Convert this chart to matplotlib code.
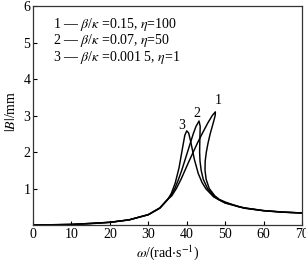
import matplotlib
matplotlib.use("Agg")
import matplotlib.pyplot as plt

# -------------------------
#  DATA
# -------------------------
# curve 1: beta/kappa = 0.15, eta = 100
omega1 = [0, 10, 20, 25, 30, 33, 35, 36.1, 37.3, 38.5, 39.55, 40.6, 41.7, 42.8,
          44.0, 44.75, 45.5, 46.65, 47.45,
          47.4, 46.9, 46.5, 46.1, 45.55, 45.1, 44.8, 44.75, 45.05, 45.85,
          47.3, 48.5, 50, 53.5, 55, 60, 65, 70]
B1 = [0, 0.015, 0.074, 0.142, 0.286, 0.47, 0.70, 0.8, 1.0, 1.25, 1.5, 1.75, 2.0, 2.25,
      2.5, 2.65, 2.8, 3.0, 3.1,
      3.0, 2.8, 2.65, 2.5, 2.25, 2.0, 1.75, 1.5, 1.25, 1.0,
      0.8, 0.7, 0.63, 0.5, 0.47, 0.395, 0.355, 0.33]

# curve 2: beta/kappa = 0.07, eta = 50
omega2 = [0, 10, 20, 25, 30, 33, 35, 35.9, 36.9, 37.85, 38.7, 39.45, 40.2, 41.1,
          41.7, 42.4, 43.2,
          43.5, 43.45, 43.4, 43.35, 43.45, 43.75, 44.3, 45.4, 47.0, 48.2,
          50, 55, 60, 65, 70]
B2 = [0, 0.015, 0.074, 0.141, 0.283, 0.465, 0.70, 0.8, 1.0, 1.25, 1.5, 1.75, 2.0, 2.3,
      2.5, 2.7, 2.85,
      2.7, 2.5, 2.3, 2.0, 1.75, 1.5, 1.25, 1.0, 0.8, 0.7,
      0.61, 0.465, 0.393, 0.353, 0.328]

# curve 3: beta/kappa = 0.0015, eta = 1
omega3 = [0, 5, 10, 15, 20, 25, 30, 33, 35, 36, 37, 38, 39, 39.5, 40, 40.5, 41,
          42, 43, 44, 45, 47, 50, 55, 60, 65, 70]
B3 = [0, 0.004, 0.015, 0.036, 0.073, 0.14, 0.28, 0.46, 0.69, 0.87, 1.15, 1.57, 2.17,
      2.46, 2.58, 2.52, 2.30, 1.79, 1.41, 1.16, 0.99, 0.77, 0.60, 0.46, 0.39, 0.35, 0.33]

legend_lines = [r"1 — $\beta$/$\kappa$ =0.15, $\eta$=100",
                r"2 — $\beta$/$\kappa$ =0.07, $\eta$=50",
                r"3 — $\beta$/$\kappa$ =0.001 5, $\eta$=1"]
curve_tags = ["1", "2", "3"]
tag_pos = [(48.3, 3.42), (42.6, 3.06), (38.7, 2.74)]

xticks = [0, 10, 20, 30, 40, 50, 60, 70]
yticks = [1, 2, 3, 4, 5, 6]

# -------------------------
#  FIGURE
# -------------------------
plt.rcParams["font.family"] = ["Liberation Serif", "DejaVu Serif"]
plt.rcParams["mathtext.fontset"] = "stix"

fig = plt.figure(figsize=(3.06, 2.63), dpi=100)
ax = fig.add_axes([0.108, 0.1445, 0.879, 0.8325])

for om, bb in [(omega1, B1), (omega2, B2), (omega3, B3)]:
    ax.plot(om, bb, color="black", lw=1.05, solid_joinstyle="round")

ax.set_xlim(0, 70)
ax.set_ylim(0, 6)
ax.set_xticks(xticks)
ax.set_yticks(yticks)
ax.tick_params(direction="in", length=3, width=0.8, labelsize=10, pad=2)
for sp in ax.spines.values():
    sp.set_linewidth(0.9)
    sp.set_color("#333333")

ax.set_xlabel(r"$\omega$/(rad$\cdot$s$^{-1}$)", fontsize=10, labelpad=2)
ax.set_ylabel(r"$|B|$/mm", fontsize=10)
ax.yaxis.set_label_coords(-0.055, 0.52)

for i, line in enumerate(legend_lines):
    ax.text(0.075, 0.915 - i * 0.074, line, transform=ax.transAxes,
            ha="left", va="center", fontsize=10)

for tag, (tx, ty) in zip(curve_tags, tag_pos):
    ax.text(tx, ty, tag, ha="center", va="center", fontsize=10)

fig.savefig("out.png", dpi=100)
